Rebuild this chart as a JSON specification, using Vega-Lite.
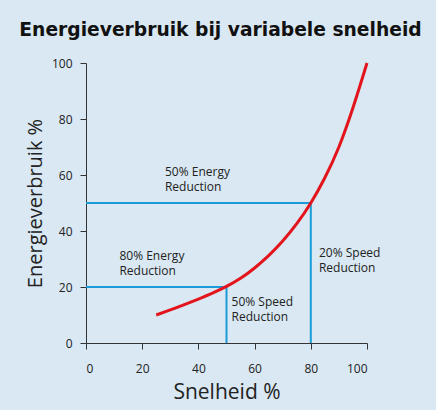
{
  "$schema": "https://vega.github.io/schema/vega-lite/v6.json",
  "width": 281,
  "height": 280,
  "autosize": "none",
  "padding": {"left": 86, "top": 63, "right": 69, "bottom": 67},
  "background": "#d9e8f2",
  "title": {
    "text": "Energieverbruik bij variabele snelheid",
    "font": "DejaVu Sans",
    "fontWeight": "bold",
    "fontSize": 18.7,
    "color": "#111111",
    "anchor": "middle",
    "offset": 17,
    "dx": -6
  },
  "config": {
    "view": {"stroke": null},
    "axis": {
      "grid": false,
      "domainColor": "#333333",
      "tickColor": "#333333",
      "tickSize": 6,
      "labelFont": "Open Sans",
      "labelFontSize": 12,
      "labelColor": "#222222",
      "titleFont": "Open Sans",
      "titleFontWeight": "normal",
      "titleColor": "#222222"
    }
  },
  "datasets": {
    "guides": [
      {"x": 0, "x2": 80, "y": 50, "y2": 50},
      {"x": 80, "x2": 80, "y": 0, "y2": 50},
      {"x": 0, "x2": 50, "y": 20, "y2": 20},
      {"x": 50, "x2": 50, "y": 0, "y2": 20}
    ],
    "curve": [
      {"speed": 25, "energy": 10},
      {"speed": 30, "energy": 11.8},
      {"speed": 35, "energy": 13.7},
      {"speed": 40, "energy": 15.7},
      {"speed": 45, "energy": 17.8},
      {"speed": 50, "energy": 20.2},
      {"speed": 55, "energy": 23.1},
      {"speed": 60, "energy": 26.8},
      {"speed": 65, "energy": 31.2},
      {"speed": 70, "energy": 36.4},
      {"speed": 75, "energy": 42.6},
      {"speed": 80, "energy": 50},
      {"speed": 85, "energy": 59},
      {"speed": 90, "energy": 70},
      {"speed": 95, "energy": 84},
      {"speed": 100, "energy": 100}
    ],
    "notes": [
      {"x": 28.1, "y": 59.6, "text": "50% Energy\nReduction"},
      {"x": 11.9, "y": 29.6, "text": "80% Energy\nReduction"},
      {"x": 51.8, "y": 13.2, "text": "50% Speed\nReduction"},
      {"x": 82.9, "y": 30.8, "text": "20% Speed\nReduction"}
    ]
  },
  "layer": [
    {
      "data": {"name": "guides"},
      "mark": {"type": "rule", "color": "#1b9bd7", "strokeWidth": 2},
      "encoding": {
        "x": {
          "field": "x",
          "type": "quantitative",
          "scale": {"domain": [0, 100], "nice": false},
          "axis": {
            "title": "Snelheid %",
            "titleFontSize": 21,
            "values": [0, 10, 20, 30, 40, 50, 60, 70, 80, 90, 100],
            "labelExpr": "datum.value % 20 == 0 ? datum.label : ''",
            "labelPadding": 14,
            "titlePadding": 7
          }
        },
        "x2": {"field": "x2"},
        "y": {
          "field": "y",
          "type": "quantitative",
          "scale": {"domain": [0, 100], "nice": false},
          "axis": {
            "title": "Energieverbruik %",
            "titleFontSize": 20,
            "values": [0, 20, 40, 60, 80, 100],
            "labelPadding": 8,
            "titlePadding": 6
          }
        },
        "y2": {"field": "y2"}
      }
    },
    {
      "data": {"name": "curve"},
      "mark": {"type": "line", "color": "#e3141b", "strokeWidth": 3, "interpolate": "natural"},
      "encoding": {
        "x": {"field": "speed", "type": "quantitative"},
        "y": {"field": "energy", "type": "quantitative"}
      }
    },
    {
      "data": {"name": "notes"},
      "mark": {
        "type": "text",
        "align": "left",
        "baseline": "alphabetic",
        "lineBreak": "\n",
        "lineHeight": 15,
        "font": "Open Sans",
        "fontSize": 12,
        "color": "#222222"
      },
      "encoding": {
        "x": {"field": "x", "type": "quantitative"},
        "y": {"field": "y", "type": "quantitative"},
        "text": {"field": "text"}
      }
    }
  ]
}
